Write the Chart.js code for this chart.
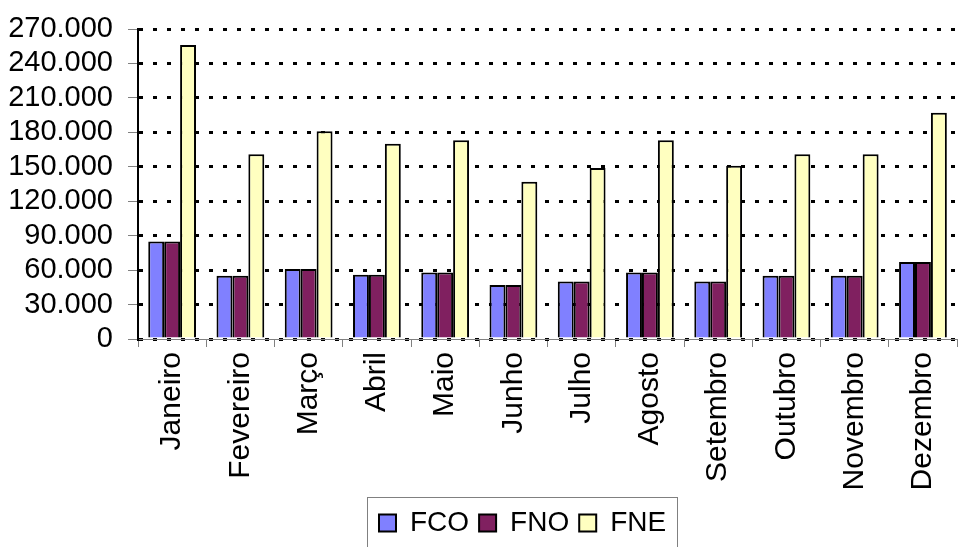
<!DOCTYPE html>
<html>
<head>
<meta charset="utf-8">
<script src="https://cdn.jsdelivr.net/npm/chart.js@4/dist/chart.umd.min.js"></script>
<style>
  html, body { margin: 0; padding: 0; background: #fff; }
  #wrap { width: 964px; height: 547px; }
</style>
</head>
<body>
<div id="wrap"><canvas id="chart" width="964" height="547"></canvas></div>
<script>
const months = ["Janeiro", "Fevereiro", "Março", "Abril", "Maio", "Junho",
  "Julho", "Agosto", "Setembro", "Outubro", "Novembro", "Dezembro"];
const fco = [85000, 55000, 61000, 56000, 58000, 47000, 50000, 58000, 50000, 55000, 55000, 67000];
const fno = [85000, 55000, 61000, 56000, 58000, 47000, 50000, 58000, 50000, 55000, 55000, 67000];
const fne = [256000, 161000, 181000, 170000, 173000, 137000, 149000, 173000, 151000, 161000, 161000, 197000];
const yMax = 270000;
const yStep = 30000;

const FONT = "'Liberation Sans', Arial, sans-serif";

// thousands with a dot, like the original
function fmt(v) {
  return String(v).replace(/\B(?=(\d{3})+(?!\d))/g, ".");
}

// move the legend and draw its grey frame
const legendFrame = {
  id: "legendFrame",
  afterLayout(chart) {
    const lg = chart.legend;
    lg.left = 369;
    lg.right = 760;
    lg.width = 391;
  },
  afterDraw(chart) {
    const ctx = chart.ctx;
    ctx.save();
    ctx.strokeStyle = "#808080";
    ctx.lineWidth = 1;
    ctx.strokeRect(367.5, 497.5, 310, 60);
    ctx.restore();
  }
};

new Chart(document.getElementById("chart"), {
  type: "bar",
  data: {
    labels: months,
    datasets: [
      { label: "FCO", data: fco, backgroundColor: "#8080FF", borderColor: "#000", borderWidth: 2 },
      { label: "FNO", data: fno, backgroundColor: "#802060", borderColor: "#000", borderWidth: 2 },
      { label: "FNE", data: fne, backgroundColor: "#FFFFC0", borderColor: "#000", borderWidth: 2 }
    ]
  },
  options: {
    responsive: false,
    animation: false,
    events: [],
    layout: { padding: { top: 29, left: 4, right: 1, bottom: 0 } },
    datasets: { bar: { categoryPercentage: 0.7, barPercentage: 1 } },
    plugins: {
      tooltip: { enabled: false },
      legend: {
        position: "bottom",
        align: "start",
        labels: {
          color: "#000",
          font: { family: FONT, size: 28 },
          boxWidth: 17,
          boxHeight: 17,
          padding: 10
        }
      }
    },
    scales: {
      x: {
        afterFit(scale) { scale.height = 160; },
        grid: { display: true, drawOnChartArea: false, color: "#808080", tickLength: 8, lineWidth: 1 },
        border: { color: "#808080", width: 1 },
        ticks: {
          color: "#000",
          font: { family: FONT, size: 30 },
          minRotation: 90,
          maxRotation: 90,
          padding: 5,
          autoSkip: false
        }
      },
      y: {
        min: 0,
        max: yMax,
        afterFit(scale) {
          scale.width = 134;
          scale.paddingTop = 0;
          scale.paddingBottom = 0;
        },
        grid: {
          color: "#000",
          lineWidth: 3,
          tickLength: 10,
          tickColor: "#808080",
          tickWidth: 1,
          tickBorderDash: []
        },
        border: { color: "#000", width: 2, dash: [4, 10] },
        ticks: {
          stepSize: yStep,
          autoSkip: false,
          color: "#000",
          padding: 15,
          font: { family: FONT, size: 29 },
          callback: v => fmt(v)
        }
      }
    }
  },
  plugins: [legendFrame]
});
</script>
</body>
</html>
